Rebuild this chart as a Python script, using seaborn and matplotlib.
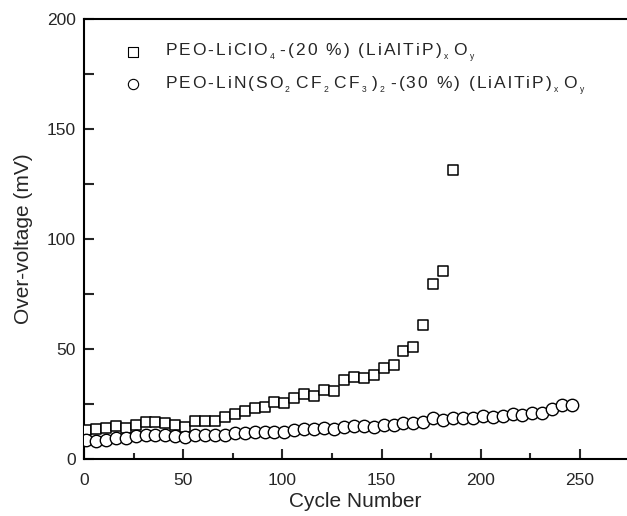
import numpy as np
import pandas as pd
import matplotlib
matplotlib.use("Agg")
import matplotlib.pyplot as plt
from matplotlib.ticker import MultipleLocator
import seaborn as sns

# Over-voltage per cycle for the two composite polymer electrolytes
cycles_clo4 = list(range(1, 187, 5))
volt_clo4 = [13.2, 13.8, 14.0, 14.9, 14.1, 15.3, 16.7, 16.7, 16.4, 15.5,
             14.7, 17.2, 17.2, 17.2, 19.3, 20.5, 22.0, 23.1, 23.8, 25.8,
             25.4, 27.6, 29.5, 28.8, 31.4, 31.1, 35.7, 37.5, 36.9, 38.1,
             41.3, 42.7, 49.3, 50.9, 60.9, 79.7, 85.6, 131.5]

cycles_beti = list(range(1, 247, 5))
volt_beti = [8.7, 8.0, 8.5, 9.7, 9.7, 10.5, 10.9, 10.9, 10.8, 10.5,
             9.9, 10.9, 10.9, 11.1, 11.1, 11.7, 12.0, 12.1, 12.1, 12.4,
             12.4, 13.4, 13.5, 13.5, 14.1, 13.8, 14.7, 15.2, 15.0, 14.7,
             15.5, 15.6, 16.5, 16.5, 17.0, 18.5, 17.8, 18.8, 18.8, 18.8,
             19.6, 19.3, 19.6, 20.5, 20.2, 21.1, 21.1, 22.6, 24.6, 24.6]

# Legend labels as (text, subscript) pieces
parts_clo4 = [("PEO-LiClO", "4"), ("-(20 %) (LiAlTiP)", "x"), ("O", "y")]
parts_beti = [("PEO-LiN(SO", "2"), ("CF", "2"), ("CF", "3"), (")", "2"),
              ("-(30 %) (LiAlTiP)", "x"), ("O", "y")]

x_ticks = [0, 50, 100, 150, 200, 250]
y_ticks = [0, 50, 100, 150, 200]

GAP = r"$\hspace{0.14}$"
SUB_GAP = r"$\hspace{0.35}$"


def spaced_label(parts):
    """Letter-spaced label with small, deeply dropped subscripts."""
    out = ""
    for i, (text, sub) in enumerate(parts):
        out += GAP.join(text) + GAP
        out += r"$_{_{" + sub + r"}}$"
        if i < len(parts) - 1:
            out += SUB_GAP
    return out


df_clo4 = pd.DataFrame({"cycle": cycles_clo4, "volt": volt_clo4})
df_beti = pd.DataFrame({"cycle": cycles_beti, "volt": volt_beti})

sns.set_style("ticks")
plt.rcParams["font.family"] = ["Liberation Sans", "DejaVu Sans"]
plt.rcParams["mathtext.fontset"] = "custom"
plt.rcParams["mathtext.rm"] = "Liberation Sans"
plt.rcParams["mathtext.it"] = "Liberation Sans"
plt.rcParams["mathtext.default"] = "rm"

fig = plt.figure(figsize=(6.27, 5.16), dpi=100)
ax = fig.add_axes([84 / 627, 1 - 459 / 516, 1 - 84 / 627, 440 / 516])

sns.scatterplot(data=df_clo4, x="cycle", y="volt", marker="s", s=62,
                color="white", edgecolor="black", linewidth=1.1,
                label=spaced_label(parts_clo4), ax=ax, zorder=3)
sns.scatterplot(data=df_beti, x="cycle", y="volt", marker="o", s=80,
                color="white", edgecolor="black", linewidth=1.0,
                label=spaced_label(parts_beti), ax=ax, zorder=3)

ax.set_xlim(0, 543 / 1.984)
ax.set_ylim(0, 200)
ax.set_xticks(x_ticks)
ax.set_yticks(y_ticks)
ax.xaxis.set_minor_locator(MultipleLocator(25))
ax.yaxis.set_minor_locator(MultipleLocator(25))

ax.tick_params(which="major", direction="in", length=7, width=1.5,
               labelsize=12.5, pad=6)
ax.tick_params(axis="x", which="major", pad=10)
ax.tick_params(axis="x", which="minor", direction="in", length=4, width=1.5)
ax.tick_params(axis="y", which="minor", direction="in", length=7, width=1.5)

for side in ["left", "bottom", "top"]:
    ax.spines[side].set_linewidth(1.5)
    ax.spines[side].set_color("black")
ax.spines["right"].set_visible(False)

ax.set_xlabel("Cycle Number", fontsize=15, labelpad=3)
ax.set_ylabel("Over-voltage (mV)", fontsize=15, labelpad=10)

leg = ax.legend(loc="upper left", bbox_to_anchor=(0.04, 0.972), frameon=False,
                fontsize=12.5, handletextpad=0.8, labelspacing=0.55,
                borderaxespad=0.2)
for h in leg.legend_handles:
    h.set_sizes([55])
    h.set_linewidth(0.8)

fig.savefig("out.png", dpi=100)
